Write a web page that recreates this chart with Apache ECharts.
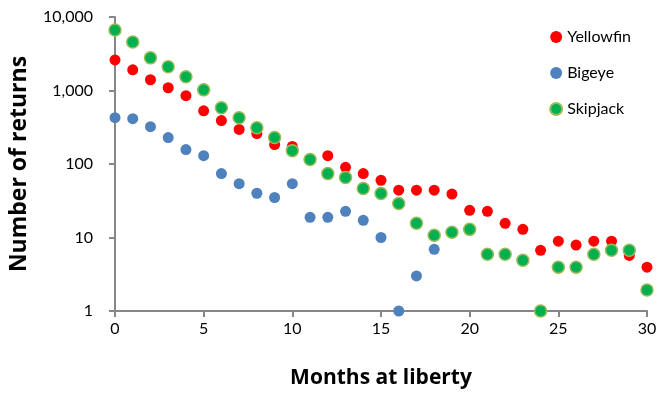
<!DOCTYPE html>
<html><head><meta charset="utf-8">
<script src="https://cdn.jsdelivr.net/npm/echarts@6/dist/echarts.min.js"></script>
<style>html,body{margin:0;padding:0;background:#fff}#c{width:662px;height:394px}</style>
</head><body><div id="c"></div>
<script>
const months = [0,1,2,3,4,5,6,7,8,9,10,11,12,13,14,15,16,17,18,19,20,21,22,23,24,25,26,27,28,29,30];
const yellowfin = [2610,1910,1400,1090,850,530,390,295,260,184,173,118,130,90,74,60,44,44,44,39,23.4,22.7,15.6,12.9,6.7,8.9,7.9,8.9,8.9,5.7,3.95];
const bigeye = [427,414,322,229,157,130,74,54,40,35,54,18.8,18.8,22.7,17.1,10,1,3,6.9];
const skipjack = [6660,4580,2780,2100,1540,1020,584,427,312,229,152,115,74,65.6,46.5,39.8,29,15.6,10.7,11.8,12.9,5.9,5.9,4.9,1,3.95,3.95,5.9,6.7,6.7,1.93];
const yTicks = ['1','10','100','1,000','10,000'];
const seriesNames = ['Yellowfin','Bigeye','Skipjack'];

const toPairs = arr => arr.map((v,i)=>[months[i],v]);
const font = 'Lato, "Open Sans", sans-serif';
const titleFont = '"Open Sans", sans-serif';
const chart = echarts.init(document.getElementById('c'));
chart.setOption({
  animation:false,
  textStyle:{fontFamily:font},
  grid:{left:114,right:15,top:17,bottom:82,containLabel:false},
  legend:{orient:'vertical',right:26,top:24,itemGap:20,itemWidth:12,itemHeight:12,
    textStyle:{fontSize:16,color:'#000',fontFamily:font},
    data:seriesNames.map(n=>({name:n,icon:'circle'}))},
  xAxis:{type:'value',min:0,max:30,interval:5,
    name:'Months at liberty',nameLocation:'middle',nameGap:57,
    nameTextStyle:{fontSize:21,fontWeight:'bold',color:'#000',fontFamily:titleFont},
    axisLine:{lineStyle:{color:'#868686',width:2}},
    axisTick:{show:true,length:6,lineStyle:{color:'#868686',width:2}},
    axisLabel:{fontSize:16,color:'#000',margin:10,fontFamily:font},
    splitLine:{show:false}},
  yAxis:{type:'log',logBase:10,min:1,max:10000,
    name:'Number of returns',nameLocation:'middle',nameGap:84,
    nameTextStyle:{fontSize:23,fontWeight:'bold',color:'#000',fontFamily:titleFont},
    axisLine:{show:true,lineStyle:{color:'#868686',width:2}},
    axisTick:{show:true,length:6,lineStyle:{color:'#868686',width:2}},
    axisLabel:{fontSize:16,color:'#000',margin:22,fontFamily:font,
      formatter:v=>{const i=Math.round(Math.log10(v));return yTicks[i]!==undefined?yTicks[i]:'';}},
    splitLine:{show:false}},
  series:[
    {name:'Yellowfin',type:'scatter',symbolSize:11,clip:false,data:toPairs(yellowfin),
      itemStyle:{color:'#ff0000',opacity:1}},
    {name:'Bigeye',type:'scatter',symbolSize:11,clip:false,data:toPairs(bigeye),
      itemStyle:{color:'#4f81bd',opacity:1}},
    {name:'Skipjack',type:'scatter',symbolSize:12,clip:false,data:toPairs(skipjack),
      itemStyle:{color:'#00b050',borderColor:'#9bbb59',borderWidth:1.5,opacity:1}}
  ]
});
</script></body></html>
